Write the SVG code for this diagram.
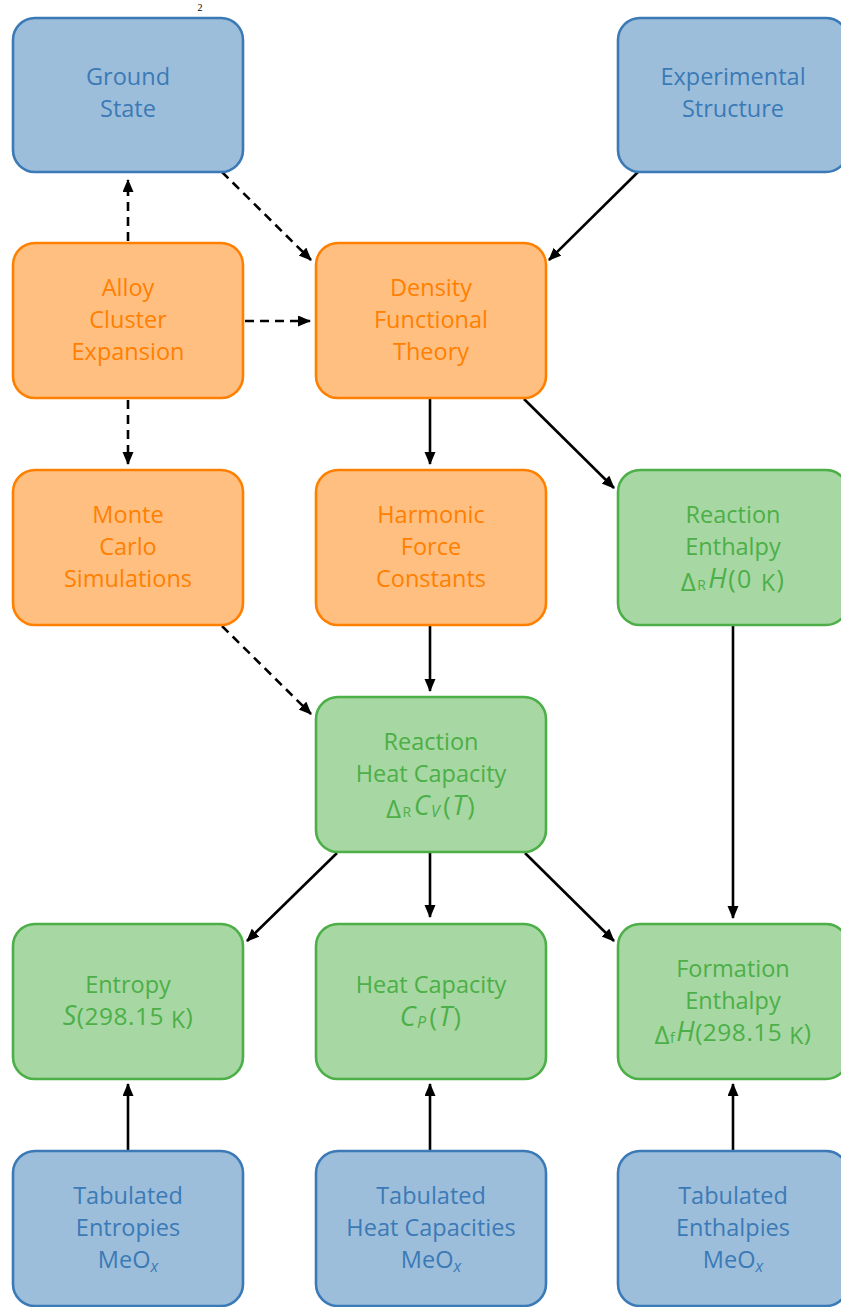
<svg xmlns="http://www.w3.org/2000/svg" width="841" height="1307" viewBox="0 0 841 1307">
<style>
.box{stroke-width:2.6}
.blue rect{fill:#9dbedb;stroke:#3b7ab6}
.blue text{fill:#3b7ab6}
.orange rect{fill:#ffbf80;stroke:#ff8000}
.orange text{fill:#ff8000}
.green rect{fill:#a7d7a3;stroke:#4caf47}
.green text{fill:#4caf47}
text{font-family:"Open Sans","DejaVu Sans",sans-serif;font-size:23.5px;text-anchor:middle}
.m{font-size:25px;letter-spacing:1.5px}
.m2{font-size:24.5px;letter-spacing:0.5px}
.it{font-style:italic;font-size:27px}
.d{font-size:26px}
.sub{font-size:14px}
.sub2{font-size:16px;font-style:italic}
.k{font-size:23px}
.conn line{stroke:#000;stroke-width:2.6;fill:none}
.dash{stroke-dasharray:9 6}
</style>
<defs>
<marker id="ah" markerUnits="userSpaceOnUse" markerWidth="14" markerHeight="12" refX="12" refY="5.5" orient="auto">
<path d="M0,0 L13,5.5 L0,11 z" fill="#000"/>
</marker>
</defs>
<text x="200" y="11" style="font-family:'Liberation Serif',serif;font-size:10px;fill:#000">2</text>
<g class="conn">
<line class="dash" x1="128" y1="241" x2="128" y2="180" marker-end="url(#ah)"/>
<line class="dash" x1="222" y1="172" x2="311" y2="260" marker-end="url(#ah)"/>
<line class="dash" x1="245" y1="321" x2="310" y2="321" marker-end="url(#ah)"/>
<line x1="638" y1="172" x2="549" y2="260" marker-end="url(#ah)"/>
<line class="dash" x1="128" y1="400" x2="128" y2="464" marker-end="url(#ah)"/>
<line x1="430" y1="399" x2="430" y2="464" marker-end="url(#ah)"/>
<line x1="524" y1="399" x2="614" y2="488" marker-end="url(#ah)"/>
<line class="dash" x1="222" y1="626" x2="311" y2="714" marker-end="url(#ah)"/>
<line x1="430" y1="626" x2="430" y2="691" marker-end="url(#ah)"/>
<line x1="733" y1="626" x2="733" y2="918" marker-end="url(#ah)"/>
<line x1="337" y1="853" x2="247" y2="941" marker-end="url(#ah)"/>
<line x1="430" y1="853" x2="430" y2="917" marker-end="url(#ah)"/>
<line x1="525" y1="853" x2="614" y2="941" marker-end="url(#ah)"/>
<line x1="128" y1="1150" x2="128" y2="1084" marker-end="url(#ah)"/>
<line x1="430" y1="1150" x2="430" y2="1084" marker-end="url(#ah)"/>
<line x1="733" y1="1150" x2="733" y2="1084" marker-end="url(#ah)"/>
</g>
<g id="ground" class="blue"><rect class="box" x="13" y="18" width="230" height="154" rx="22"/>
<text x="128" y="85">Ground</text><text x="128" y="117">State</text></g>
<g id="experimental" class="blue"><rect class="box" x="618" y="18" width="230" height="154" rx="22"/>
<text x="733" y="85">Experimental</text><text x="733" y="117">Structure</text></g>
<g id="alloy" class="orange"><rect class="box" x="13" y="243" width="230" height="155" rx="22"/>
<text x="128" y="296">Alloy</text><text x="128" y="328">Cluster</text><text x="128" y="360">Expansion</text></g>
<g id="dft" class="orange"><rect class="box" x="316" y="243" width="230" height="155" rx="22"/>
<text x="431" y="296">Density</text><text x="431" y="328">Functional</text><text x="431" y="360">Theory</text></g>
<g id="montecarlo" class="orange"><rect class="box" x="13" y="470" width="230" height="155" rx="22"/>
<text x="128" y="523">Monte</text><text x="128" y="555">Carlo</text><text x="128" y="587">Simulations</text></g>
<g id="harmonic" class="orange"><rect class="box" x="316" y="470" width="230" height="155" rx="22"/>
<text x="431" y="523">Harmonic</text><text x="431" y="555">Force</text><text x="431" y="587">Constants</text></g>
<g id="reactionenthalpy" class="green"><rect class="box" x="618" y="470" width="230" height="155" rx="22"/>
<text x="733" y="523">Reaction</text><text x="733" y="555">Enthalpy</text>
<text class="m" x="733" y="588"><tspan class="d" dy="3">Δ</tspan><tspan class="sub" dy="-1">R</tspan><tspan class="it" dy="-2" dx="1">H</tspan>(0 <tspan class="k" dy="3">K</tspan><tspan dy="-3">)</tspan></text></g>
<g id="reactionheatcap" class="green"><rect class="box" x="316" y="697" width="230" height="155" rx="22"/>
<text x="431" y="750">Reaction</text><text x="431" y="782">Heat Capacity</text>
<text class="m" x="431" y="815"><tspan class="d" dy="3">Δ</tspan><tspan class="sub" dy="-1">R</tspan><tspan class="it" dy="-2" dx="1">C</tspan><tspan class="sub2" dy="2">V</tspan><tspan dy="-2" dx="2">(</tspan><tspan class="it">T</tspan>)</text></g>
<g id="entropy" class="green"><rect class="box" x="13" y="924" width="230" height="155" rx="22"/>
<text x="128" y="993">Entropy</text>
<text class="m2" x="128" y="1025"><tspan class="it">S</tspan>(298.15 <tspan class="k" dy="3">K</tspan><tspan dy="-3">)</tspan></text></g>
<g id="heatcap" class="green"><rect class="box" x="316" y="924" width="230" height="155" rx="22"/>
<text x="431" y="993">Heat Capacity</text>
<text class="m" x="431" y="1026"><tspan class="it">C</tspan><tspan class="sub2" dy="2">P</tspan><tspan dy="-2" dx="2">(</tspan><tspan class="it">T</tspan>)</text></g>
<g id="formation" class="green"><rect class="box" x="618" y="924" width="230" height="155" rx="22"/>
<text x="733" y="977">Formation</text><text x="733" y="1009">Enthalpy</text>
<text class="m2" x="733" y="1041"><tspan class="d" dy="3">Δ</tspan><tspan class="sub" dy="-1">f</tspan><tspan class="it" dy="-2" dx="1">H</tspan>(298.15 <tspan class="k" dy="3">K</tspan><tspan dy="-3">)</tspan></text></g>
<g id="tabentropies" class="blue"><rect class="box" x="13" y="1151" width="230" height="155" rx="22"/>
<text x="128" y="1204">Tabulated</text><text x="128" y="1236">Entropies</text>
<text x="128" y="1268">MeO<tspan class="sub2" dy="4">x</tspan></text></g>
<g id="tabheatcap" class="blue"><rect class="box" x="316" y="1151" width="230" height="155" rx="22"/>
<text x="431" y="1204">Tabulated</text><text x="431" y="1236">Heat Capacities</text>
<text x="431" y="1268">MeO<tspan class="sub2" dy="4">x</tspan></text></g>
<g id="tabenthalpies" class="blue"><rect class="box" x="618" y="1151" width="230" height="155" rx="22"/>
<text x="733" y="1204">Tabulated</text><text x="733" y="1236">Enthalpies</text>
<text x="733" y="1268">MeO<tspan class="sub2" dy="4">x</tspan></text></g>
</svg>
